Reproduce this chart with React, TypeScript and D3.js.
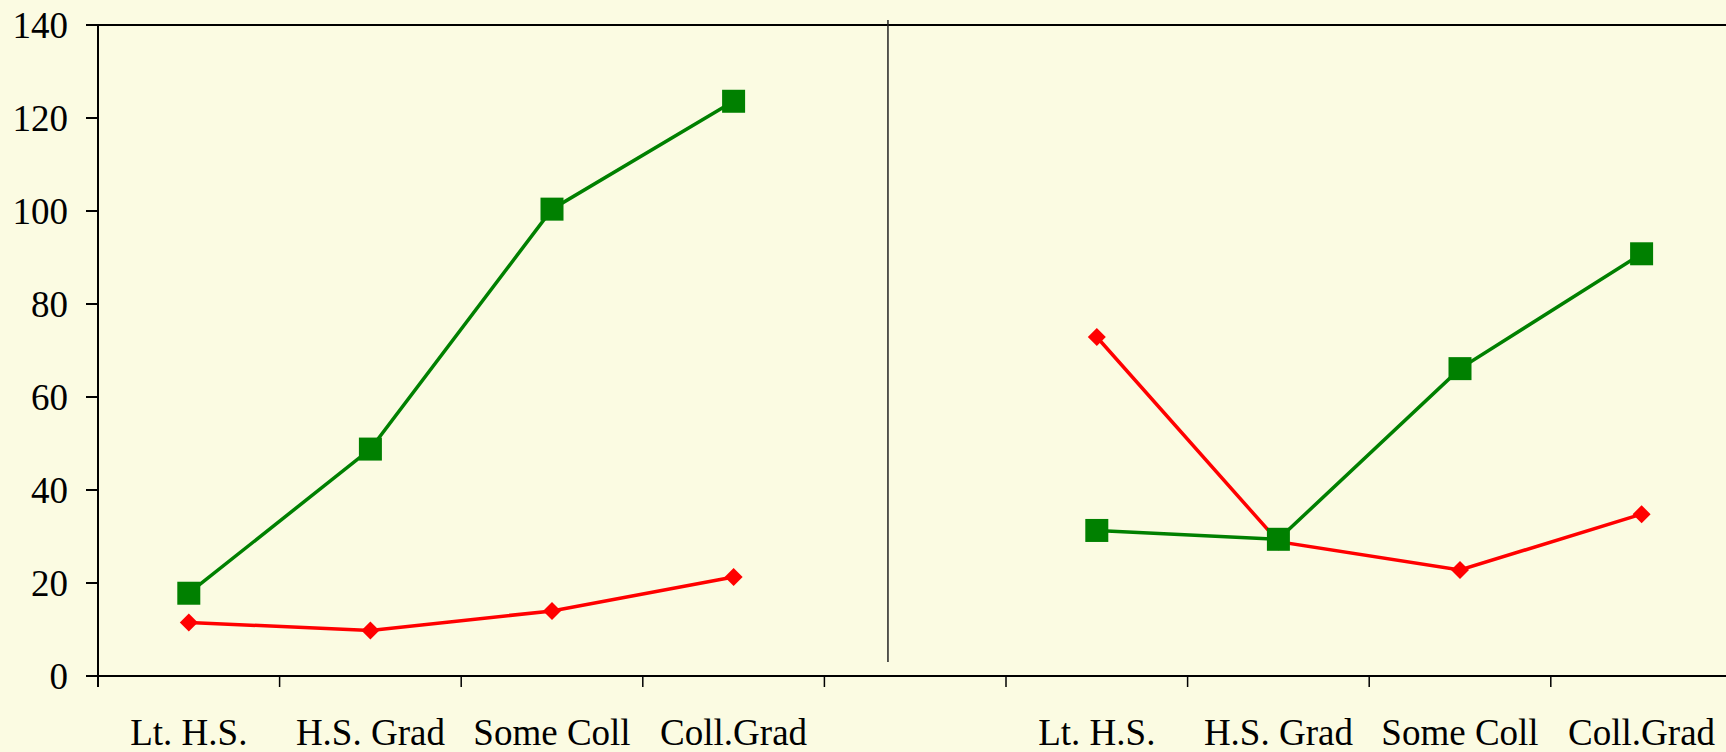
import React from 'react';
import * as d3 from 'd3';

// Education categories, two panels separated by an empty slot
const categories = ['Lt. H.S.', 'H.S. Grad', 'Some Coll', 'Coll.Grad', '', 'Lt. H.S.', 'H.S. Grad', 'Some Coll', 'Coll.Grad'];

// Left panel values (slots 0..3)
const leftGreen = [17.8, 48.8, 100.4, 123.6];
const leftRed = [11.5, 9.8, 14.0, 21.3];

// Right panel values (slots 5..8)
const rightGreen = [31.3, 29.4, 66.1, 90.8];
const rightRed = [72.9, 28.9, 22.8, 34.8];

const yTicks = [0, 20, 40, 60, 80, 100, 120, 140];

const width = 1726;
const height = 752;
const marginLeft = 98;
const marginTop = 25;
const plotBottom = 676;
const bandW = 181.6;

const font = '"Liberation Serif", "Times New Roman", serif';

export default function App() {
    const x = d3
        .scaleBand<number>()
        .domain(categories.map((_, i) => i))
        .range([marginLeft, marginLeft + bandW * categories.length]);
    const y = d3.scaleLinear().domain([0, 140]).range([plotBottom, marginTop]);
    const cx = (i: number) => x(i)! + x.bandwidth() / 2;

    const line = d3
        .line<[number, number]>()
        .x((d) => cx(d[0]))
        .y((d) => y(d[1]));

    const toPts = (vals: number[], offset: number) => vals.map((v, i) => [i + offset, v] as [number, number]);

    const greenSeries = [toPts(leftGreen, 0), toPts(rightGreen, 5)];
    const redSeries = [toPts(leftRed, 0), toPts(rightRed, 5)];

    const sq = 23;
    const dm = 9;
    const sepX = x(4)! + x.bandwidth() * 0.35;

    return (
        <div style={{ width, height, overflow: 'hidden' }}>
            <style>{`body { margin: 0; }`}</style>
            <svg width={width} height={height} style={{ display: 'block', background: '#FBFBE2', fontFamily: font }}>
                <rect x={0} y={0} width={width} height={height} fill="#FBFBE2" />

                {/* top border line */}
                <line x1={marginLeft - 12} x2={width} y1={y(140)} y2={y(140)} stroke="#000" strokeWidth={2} />

                {/* y axis */}
                <line x1={marginLeft} x2={marginLeft} y1={y(140)} y2={plotBottom + 11} stroke="#000" strokeWidth={2} />
                {yTicks.map((t) => (
                    <g key={t}>
                        <line x1={marginLeft - 12} x2={marginLeft} y1={y(t)} y2={y(t)} stroke="#000" strokeWidth={2} />
                        <text x={68} y={y(t)} dy="0.35em" textAnchor="end" fontSize={37} fill="#000">
                            {t}
                        </text>
                    </g>
                ))}

                {/* x axis */}
                <line x1={marginLeft - 12} x2={width} y1={plotBottom} y2={plotBottom} stroke="#000" strokeWidth={2} />
                {categories.map((c, i) => (
                    <g key={i}>
                        <line x1={x(i)! + x.bandwidth()} x2={x(i)! + x.bandwidth()} y1={plotBottom} y2={plotBottom + 11} stroke="#000" strokeWidth={1.5} />
                        {c && (
                            <text x={cx(i)} y={745} textAnchor="middle" fontSize={37} fill="#000">
                                {c}
                            </text>
                        )}
                    </g>
                ))}

                {/* panel separator */}
                <line x1={sepX} x2={sepX} y1={20} y2={662} stroke="#222" strokeWidth={1.5} />

                {/* red series */}
                {redSeries.map((pts, k) => (
                    <g key={'r' + k}>
                        <path d={line(pts)!} fill="none" stroke="#FF0000" strokeWidth={3.5} />
                        {pts.map((p, i) => (
                            <path
                                key={i}
                                d={`M${cx(p[0])},${y(p[1]) - dm}L${cx(p[0]) + dm},${y(p[1])}L${cx(p[0])},${y(p[1]) + dm}L${cx(p[0]) - dm},${y(p[1])}Z`}
                                fill="#FF0000"
                            />
                        ))}
                    </g>
                ))}

                {/* green series */}
                {greenSeries.map((pts, k) => (
                    <g key={'g' + k}>
                        <path d={line(pts)!} fill="none" stroke="#008000" strokeWidth={3.5} />
                        {pts.map((p, i) => (
                            <rect key={i} x={cx(p[0]) - sq / 2} y={y(p[1]) - sq / 2} width={sq} height={sq} fill="#008000" />
                        ))}
                    </g>
                ))}
            </svg>
        </div>
    );
}
